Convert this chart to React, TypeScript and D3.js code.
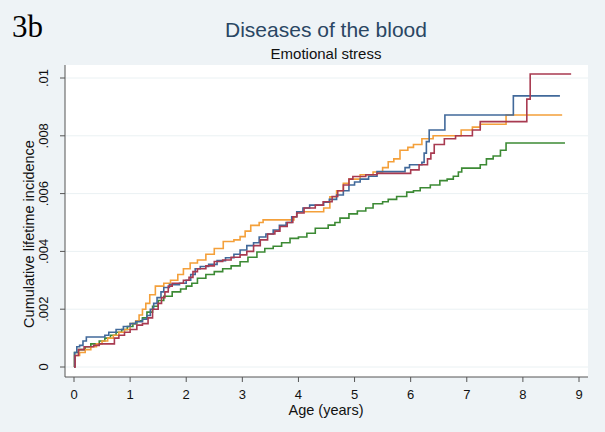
import React from "react";
import * as d3 from "d3";

const W = 605;
const H = 432;

const xTicks = [0, 1, 2, 3, 4, 5, 6, 7, 8, 9];
const yTicks = [0, 0.002, 0.004, 0.006, 0.008, 0.01];
const yTickLabels = ["0", ".002", ".004", ".006", ".008", ".01"];

const titleText = "Diseases of the blood";
const subtitleText = "Emotional stress";
const panelLabel = "3b";
const xTitle = "Age (years)";
const yTitle = "Cumulative lifetime incidence";

const blueSeries: [number, number][] = [
  [0, 0], [0.01, 0.0005], [0.05, 0.0007], [0.1, 0.00075], [0.16, 0.0009], [0.22, 0.00104],
  [0.55, 0.0011], [0.62, 0.0012], [0.75, 0.0013], [0.88, 0.0014], [1.0, 0.0015], [1.1, 0.00157],
  [1.22, 0.00165], [1.3, 0.00178], [1.36, 0.002], [1.42, 0.0022], [1.48, 0.0024], [1.55, 0.0026],
  [1.6, 0.00275], [1.7, 0.00285], [1.88, 0.0029], [2.0, 0.003], [2.08, 0.0032], [2.16, 0.0034],
  [2.25, 0.00348], [2.4, 0.00355], [2.55, 0.00368], [2.7, 0.00378], [2.85, 0.0039], [2.96, 0.00405],
  [3.08, 0.0042], [3.2, 0.0043], [3.3, 0.0045], [3.42, 0.0046], [3.55, 0.00474], [3.66, 0.0049],
  [3.78, 0.005], [3.88, 0.0052], [3.97, 0.00537], [4.08, 0.0055], [4.2, 0.0056], [4.45, 0.0057],
  [4.55, 0.0058], [4.68, 0.00595], [4.8, 0.0061], [4.9, 0.0063], [5.0, 0.0064], [5.1, 0.0065],
  [5.25, 0.0066], [5.4, 0.00676], [5.9, 0.0069], [5.98, 0.007], [6.2, 0.00708], [6.24, 0.0074],
  [6.28, 0.0078], [6.33, 0.0082], [6.61, 0.00872], [7.83, 0.00938], [8.66, 0.00938],
];

const redSeries: [number, number][] = [
  [0, 0], [0.02, 0.0004], [0.08, 0.0006], [0.18, 0.0007], [0.35, 0.00075], [0.45, 0.0008],
  [0.72, 0.001], [0.8, 0.0011], [0.9, 0.0012], [1.0, 0.0013], [1.12, 0.00145], [1.22, 0.0015],
  [1.32, 0.0017], [1.4, 0.002], [1.5, 0.0022], [1.56, 0.0024], [1.62, 0.0026], [1.68, 0.0028],
  [1.75, 0.0029], [1.95, 0.003], [2.05, 0.0031], [2.12, 0.0033], [2.2, 0.0034], [2.35, 0.0035],
  [2.5, 0.00365], [2.65, 0.0037], [2.8, 0.0038], [2.96, 0.00388], [3.08, 0.004], [3.2, 0.0042],
  [3.32, 0.0044], [3.45, 0.0046], [3.58, 0.0047], [3.67, 0.00486], [3.8, 0.005], [3.9, 0.0052],
  [3.97, 0.00533], [4.1, 0.0055], [4.3, 0.0056], [4.44, 0.00572], [4.6, 0.0059], [4.7, 0.0061],
  [4.8, 0.0063], [4.9, 0.0065], [4.97, 0.00659], [5.2, 0.00665], [5.4, 0.0067], [6.0, 0.00682],
  [6.15, 0.007], [6.3, 0.0072], [6.36, 0.0074], [6.42, 0.0077], [6.6, 0.0079], [6.8, 0.008],
  [7.1, 0.0082], [7.24, 0.00849], [8.07, 0.00927], [8.13, 0.01014], [8.86, 0.01014],
];

const orangeSeries: [number, number][] = [
  [0, 0], [0.01, 0.0004], [0.1, 0.0005], [0.2, 0.0006], [0.3, 0.0007], [0.4, 0.0008],
  [0.5, 0.0009], [0.6, 0.001], [0.7, 0.0011], [0.8, 0.0012], [0.9, 0.0013], [1.0, 0.0015],
  [1.1, 0.0016], [1.16, 0.0018], [1.22, 0.002], [1.28, 0.0022], [1.35, 0.0025], [1.45, 0.0028],
  [1.6, 0.0029], [1.72, 0.003], [1.85, 0.0032], [1.95, 0.0034], [2.07, 0.0036], [2.2, 0.0037],
  [2.35, 0.0039], [2.5, 0.0041], [2.66, 0.00434], [2.85, 0.0044], [2.96, 0.00451], [3.05, 0.0047],
  [3.15, 0.0049], [3.3, 0.005], [3.37, 0.00509], [3.92, 0.0052], [3.97, 0.00537], [4.45, 0.0055],
  [4.56, 0.00589], [4.68, 0.0061], [4.8, 0.00636], [4.9, 0.0065], [5.1, 0.00665], [5.33, 0.00675],
  [5.5, 0.0069], [5.6, 0.0071], [5.7, 0.0072], [5.81, 0.0075], [5.95, 0.0076], [6.05, 0.0077],
  [6.2, 0.0079], [6.4, 0.008], [6.9, 0.0082], [7.1, 0.0083], [7.24, 0.0084], [7.7, 0.00872],
  [8.7, 0.00872],
];

const greenSeries: [number, number][] = [
  [0, 0], [0.01, 0.0005], [0.08, 0.0006], [0.2, 0.0007], [0.3, 0.0008], [0.45, 0.0009],
  [0.55, 0.001], [0.65, 0.0011], [0.75, 0.0012], [0.85, 0.0013], [0.95, 0.0014], [1.05, 0.0015],
  [1.12, 0.0016], [1.22, 0.0017], [1.3, 0.0019], [1.4, 0.0021], [1.5, 0.0023], [1.6, 0.00245],
  [1.75, 0.0026], [1.9, 0.0027], [2.0, 0.0028], [2.1, 0.0029], [2.2, 0.00307], [2.35, 0.0032],
  [2.5, 0.0033], [2.65, 0.0034], [2.8, 0.0035], [2.96, 0.00364], [3.1, 0.0038], [3.26, 0.00398],
  [3.4, 0.0041], [3.55, 0.00418], [3.7, 0.0043], [3.85, 0.00445], [4.0, 0.0045], [4.15, 0.00463],
  [4.3, 0.0048], [4.53, 0.00491], [4.65, 0.005], [4.74, 0.00515], [4.9, 0.0053], [5.05, 0.0054],
  [5.2, 0.0055], [5.33, 0.00565], [5.5, 0.00572], [5.6, 0.0058], [5.75, 0.0059], [5.93, 0.00605],
  [6.05, 0.0061], [6.17, 0.0062], [6.35, 0.0063], [6.52, 0.00645], [6.65, 0.0065], [6.76, 0.0066],
  [6.85, 0.00675], [6.91, 0.00688], [7.24, 0.007], [7.35, 0.0072], [7.47, 0.0073], [7.6, 0.0075],
  [7.7, 0.00775], [8.75, 0.00775],
];

const seriesList = [
  { name: "green", data: greenSeries, color: "#3c8a34" },
  { name: "orange", data: orangeSeries, color: "#f4a03a" },
  { name: "blue", data: blueSeries, color: "#41699a" },
  { name: "red", data: redSeries, color: "#a83a50" },
];

export default function App() {
  const plotLeft = 65;
  const plotRight = 588;
  const plotTop = 65;
  const plotBottom = 377;

  const x = d3.scaleLinear().domain([0, 9]).range([74, 579]);
  const y = d3.scaleLinear().domain([0, 0.01]).range([367, 78]);

  const line = d3
    .line<[number, number]>()
    .x((d) => x(d[0]))
    .y((d) => y(d[1]))
    .curve(d3.curveStepAfter);

  const font = "Arial, 'Liberation Sans', Helvetica, sans-serif";

  return (
    <svg
      width={W}
      height={H}
      style={{ position: "absolute", left: 0, top: 0 }}
      fontFamily={font}
    >
      <rect x={0} y={0} width={W} height={H} fill="#eef3f6" />
      <rect
        x={plotLeft}
        y={plotTop}
        width={plotRight - plotLeft}
        height={plotBottom - plotTop}
        fill="#ffffff"
      />
      {yTicks.map((t, i) => (
        <line
          key={"g" + i}
          x1={plotLeft}
          x2={plotRight}
          y1={y(t)}
          y2={y(t)}
          stroke="#eaf1f3"
          strokeWidth={1}
        />
      ))}
      {seriesList.map((s) => (
        <path
          key={s.name}
          d={line(s.data) || ""}
          fill="none"
          stroke={s.color}
          strokeWidth={1.6}
        />
      ))}
      {/* y axis */}
      <line x1={plotLeft} x2={plotLeft} y1={plotTop} y2={plotBottom} stroke="#555" strokeWidth={1} />
      {yTicks.map((t, i) => (
        <g key={"yt" + i}>
          <line x1={plotLeft - 5} x2={plotLeft} y1={y(t)} y2={y(t)} stroke="#555" strokeWidth={1} />
          <text
            transform={`translate(${plotLeft - 17},${y(t)}) rotate(-90)`}
            textAnchor="middle"
            fontSize={13}
            fill="#111"
          >
            {yTickLabels[i]}
          </text>
        </g>
      ))}
      <text
        transform={`translate(34,234) rotate(-90)`}
        textAnchor="middle"
        fontSize={14.5}
        fill="#111"
      >
        {yTitle}
      </text>
      {/* x axis */}
      <line x1={plotLeft} x2={plotRight} y1={plotBottom} y2={plotBottom} stroke="#555" strokeWidth={1} />
      {xTicks.map((t) => (
        <g key={"xt" + t}>
          <line x1={x(t)} x2={x(t)} y1={plotBottom} y2={plotBottom + 5} stroke="#555" strokeWidth={1} />
          <text x={x(t)} y={399} textAnchor="middle" fontSize={13} fill="#111">
            {t}
          </text>
        </g>
      ))}
      <text x={326} y={415} textAnchor="middle" fontSize={14.5} fill="#111">
        {xTitle}
      </text>
      {/* titles */}
      <text x={326} y={37} textAnchor="middle" fontSize={21} fill="#2a4663">
        {titleText}
      </text>
      <text x={326} y={59} textAnchor="middle" fontSize={15} fill="#111">
        {subtitleText}
      </text>
      <text x={12} y={37} fontSize={31} fontFamily="'Liberation Serif', 'Times New Roman', serif" fill="#000">
        {panelLabel}
      </text>
    </svg>
  );
}
